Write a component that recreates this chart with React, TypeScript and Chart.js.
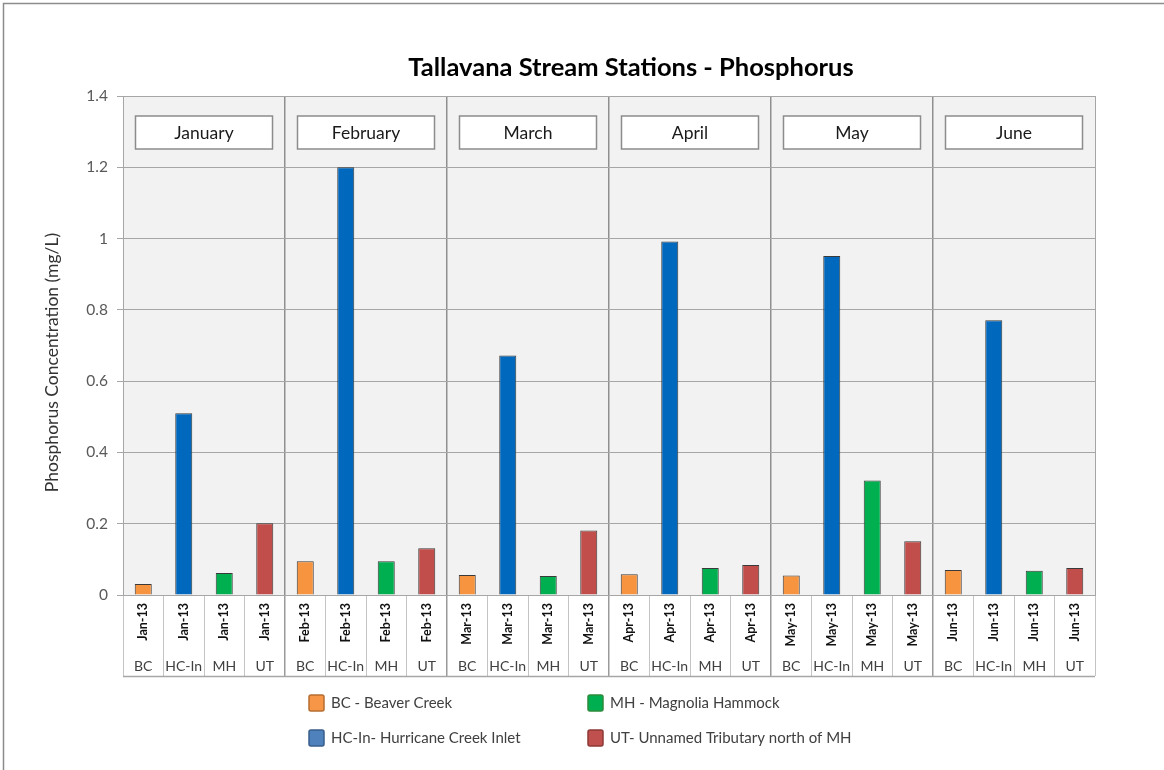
import React, { useEffect, useRef } from 'react';
import { Chart, registerables } from 'chart.js';

Chart.register(...registerables);

const months = ['Jan-13', 'Feb-13', 'Mar-13', 'Apr-13', 'May-13', 'Jun-13'];
const monthNames = ['January', 'February', 'March', 'April', 'May', 'June'];
const stations = ['BC', 'HC-In', 'MH', 'UT'];
const stationNames = [
  'BC - Beaver Creek',
  'HC-In- Hurricane Creek Inlet',
  'MH - Magnolia Hammock',
  'UT- Unnamed Tributary north of MH',
];
const bcValues = [0.031, 0.095, 0.056, 0.058, 0.055, 0.07];
const hcValues = [0.51, 1.2, 0.672, 0.992, 0.951, 0.771];
const mhValues = [0.062, 0.095, 0.053, 0.076, 0.321, 0.068];
const utValues = [0.201, 0.131, 0.181, 0.084, 0.151, 0.076];
const yTickLabels = ['0', '0.2', '0.4', '0.6', '0.8', '1', '1.2', '1.4'];
const chartTitle = 'Tallavana Stream Stations - Phosphorus';
const yAxisTitle = 'Phosphorus Concentration (mg/L)';

const FONT = 'Lato, "Open Sans", sans-serif';
const barColors = ['#F7943F', '#0068BD', '#00AF4F', '#C24E4B'];
const legendFill = ['#F79646', '#4F81BD', '#00B050', '#C0504D'];
const legendStroke = ['#B66D31', '#385D8A', '#2C8A3C', '#8C3836'];

const stationValues = [bcValues, hcValues, mhValues, utValues];
const categoryMonths = months.flatMap((m) => stations.map(() => m));
const categoryStations = months.flatMap(() => stations);

const isMonthEdge = (i: any) => typeof i === 'number' && i > 0 && i % 4 === 0;

const decorPlugin = {
  id: 'decor',
  beforeDraw(chart: any) {
    const { ctx, chartArea: a } = chart;
    ctx.save();
    ctx.fillStyle = '#ffffff';
    ctx.fillRect(0, 0, chart.width, chart.height);
    ctx.fillStyle = '#f2f2f2';
    ctx.fillRect(a.left, a.top, a.right - a.left, a.bottom - a.top);
    ctx.strokeStyle = '#8c8c8c';
    ctx.lineWidth = 1.5;
    ctx.beginPath();
    ctx.moveTo(3.5, chart.height);
    ctx.lineTo(3.5, 3.5);
    ctx.lineTo(chart.width, 3.5);
    ctx.stroke();
    ctx.restore();
  },
  afterDraw(chart: any) {
    const { ctx, chartArea: a } = chart;
    const x = chart.scales.x;
    const x2 = chart.scales.x2;
    const tableBottom = x2.bottom;
    ctx.save();
    // table bottom line
    ctx.strokeStyle = '#a6a6a6';
    ctx.lineWidth = 1.5;
    ctx.beginPath();
    ctx.moveTo(a.left, tableBottom + 0.5);
    ctx.lineTo(a.right, tableBottom + 0.5);
    ctx.stroke();

    // title
    ctx.fillStyle = '#000000';
    ctx.font = `bold 25.5px ${FONT}`;
    ctx.textAlign = 'center';
    ctx.textBaseline = 'middle';
    ctx.fillText(chartTitle, (a.left + a.right) / 2 + 22, a.top - 28);

    // y axis title
    ctx.save();
    ctx.translate(52, (a.top + a.bottom) / 2 + 17);
    ctx.rotate(-Math.PI / 2);
    ctx.fillStyle = '#333333';
    ctx.font = `17.5px ${FONT}`;
    ctx.textAlign = 'center';
    ctx.textBaseline = 'middle';
    ctx.fillText(yAxisTitle, 0, 0);
    ctx.restore();

    // month boxes
    const catW = (a.right - a.left) / categoryMonths.length;
    monthNames.forEach((name, m) => {
      const l = x.getPixelForValue(m * 4) - catW / 2;
      const r = x.getPixelForValue(m * 4 + 3) + catW / 2;
      const cx = (l + r) / 2;
      const w = 137;
      const h = 33;
      const top = a.top + 20;
      ctx.fillStyle = '#ffffff';
      ctx.fillRect(cx - w / 2, top, w, h);
      ctx.strokeStyle = '#8c8c8c';
      ctx.lineWidth = 1.5;
      ctx.strokeRect(cx - w / 2, top, w, h);
      ctx.fillStyle = '#1a1a1a';
      ctx.font = `17.5px ${FONT}`;
      ctx.textAlign = 'center';
      ctx.textBaseline = 'middle';
      ctx.fillText(name, cx, top + h / 2 + 1);
    });

    // legend
    const cols = [a.left + 186, a.left + 465];
    const rows = [tableBottom + 27, tableBottom + 62];
    const order = [
      [0, 0, 0],
      [2, 1, 0],
      [1, 0, 1],
      [3, 1, 1],
    ];
    order.forEach(([k, c, r]) => {
      const bx = cols[c];
      const by = rows[r];
      ctx.fillStyle = legendFill[k];
      ctx.strokeStyle = legendStroke[k];
      ctx.lineWidth = 1.5;
      ctx.beginPath();
      if (ctx.roundRect) ctx.roundRect(bx, by - 8, 15, 16, 2);
      else ctx.rect(bx, by - 8, 15, 16);
      ctx.fill();
      ctx.stroke();
      ctx.fillStyle = '#404040';
      ctx.font = `15px ${FONT}`;
      ctx.textAlign = 'left';
      ctx.textBaseline = 'middle';
      ctx.fillText(stationNames[k], bx + 22, by);
    });
    ctx.restore();
  },
};

export default function App() {
  const ref = useRef<HTMLCanvasElement>(null);

  useEffect(() => {
    if (!ref.current) return;
    const datasets = stations.map((s, k) => ({
      label: stationNames[k],
      data: categoryMonths.map((_, i) =>
        i % 4 === k ? stationValues[k][Math.floor(i / 4)] : null
      ),
      backgroundColor: barColors[k],
      borderColor: '#3a3a3a',
      borderWidth: 1,
      barPercentage: 0.42,
      categoryPercentage: 1,
      grouped: false,
      skipNull: true,
    }));

    const chart = new Chart(ref.current, {
      type: 'bar',
      data: { labels: categoryMonths, datasets: datasets as any },
      plugins: [decorPlugin],
      options: {
        animation: false,
        responsive: false,
        devicePixelRatio: 1,
        layout: { padding: { left: 0, right: 69, top: 96, bottom: 94 } },
        plugins: {
          legend: { display: false },
          tooltip: { enabled: false },
          title: { display: false },
        },
        scales: {
          x: {
            type: 'category',
            position: 'bottom',
            weight: 0,
            offset: true,
            grid: {
              offset: true,
              drawOnChartArea: true,
              drawTicks: true,
              tickLength: 81,
              color: (c: any) =>
                isMonthEdge(c.index) ? '#8f8f8f' : c.index === undefined || c.index === 0 ? '#a6a6a6' : 'rgba(0,0,0,0)',
              tickColor: (c: any) => (isMonthEdge(c.index) ? '#9a9a9a' : '#c4c4c4'),
              lineWidth: (c: any) => (isMonthEdge(c.index) ? 1.5 : 1),
            },
            border: { display: true, color: '#a6a6a6' },
            ticks: {
              autoSkip: false,
              minRotation: 90,
              maxRotation: 90,
              padding: -73,
              color: '#111111',
              font: { family: FONT, size: 12.5, weight: 'bold' },
            },
            afterFit: (s: any) => {
              s.height = 55;
            },
          },
          x2: {
            type: 'category',
            position: 'bottom',
            weight: 1,
            labels: categoryStations,
            offset: true,
            grid: { display: false },
            border: { display: false },
            ticks: {
              autoSkip: false,
              minRotation: 0,
              maxRotation: 0,
              padding: 0,
              color: '#404040',
              font: { family: FONT, size: 14 },
            },
            afterFit: (s: any) => {
              s.height = 26;
            },
          },
          y: {
            type: 'linear',
            min: 0,
            max: 1.4,
            ticks: {
              stepSize: 0.2,
              padding: 9,
              color: '#595959',
              font: { family: FONT, size: 15.5 },
              callback: (_v: any, i: number) => yTickLabels[i],
            },
            grid: {
              color: '#a6a6a6',
              tickColor: '#a6a6a6',
              tickLength: 6,
              lineWidth: 1,
            },
            border: { display: true, color: '#a6a6a6' },
            title: { display: false },
            afterFit: (s: any) => {
              s.width = 123;
            },
          },
        },
      } as any,
    });
    return () => chart.destroy();
  }, []);

  return (
    <div style={{ position: 'absolute', left: 0, top: 0, width: 1164, height: 770 }}>
      <canvas ref={ref} width={1164} height={770} style={{ display: 'block' }} />
    </div>
  );
}
